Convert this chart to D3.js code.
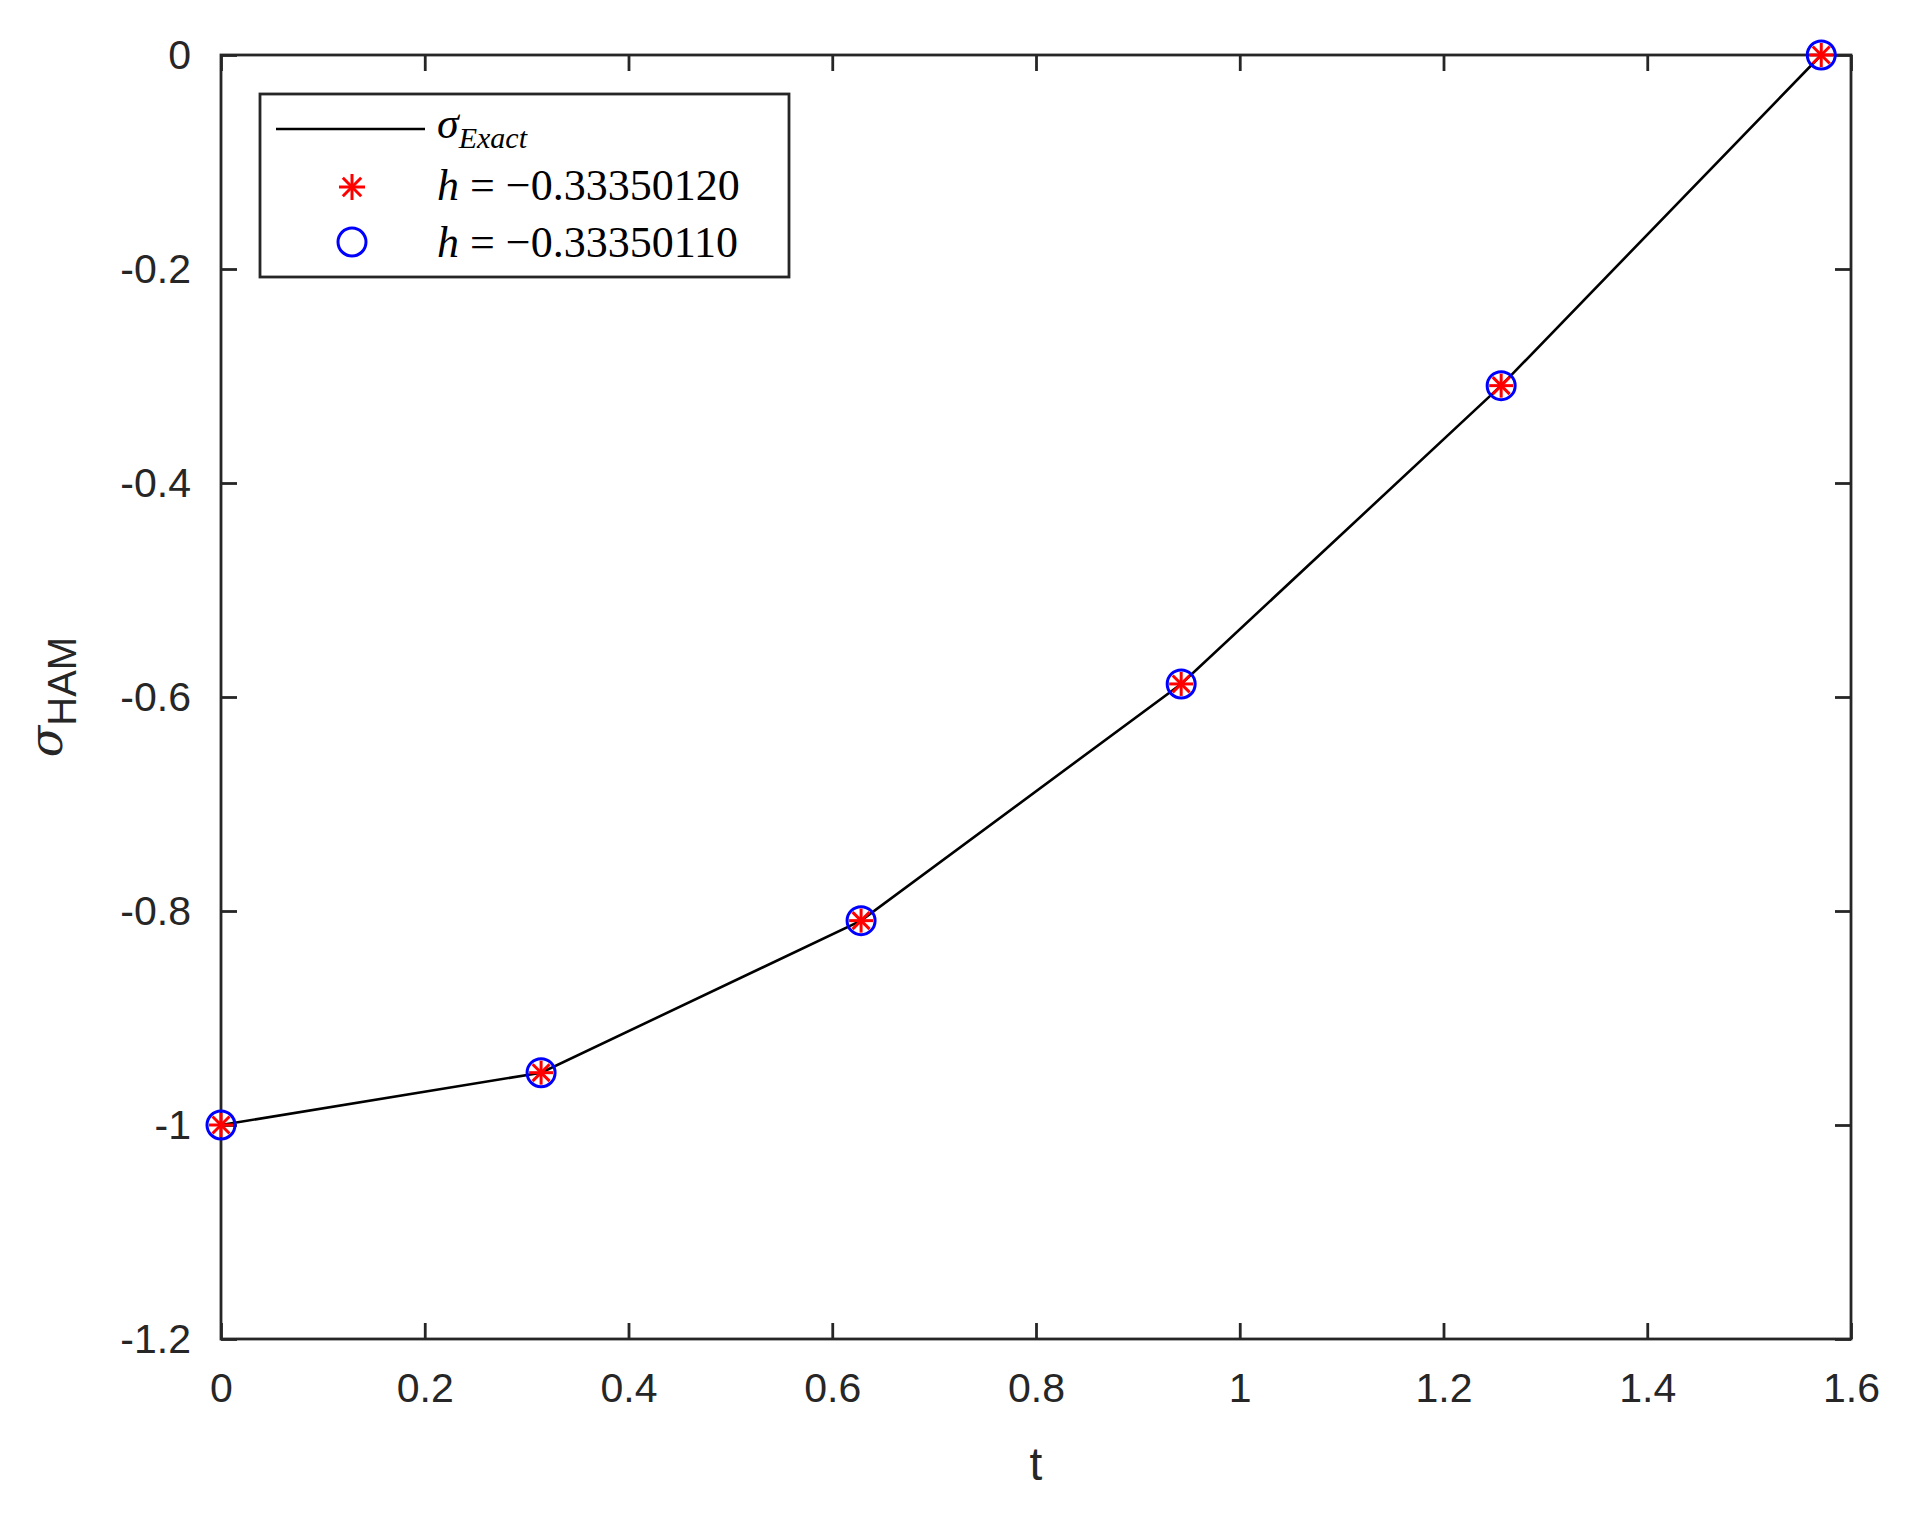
<!DOCTYPE html>
<html><head><meta charset="utf-8">
<script src="https://cdn.jsdelivr.net/npm/d3@7"></script>
<style>body{margin:0;background:#fff}</style>
</head><body>
<svg id="chart" width="1914" height="1531"></svg>
<script>
// データ
var tValues = [0, 0.3142, 0.6283, 0.9425, 1.2566, 1.5708];
var sigmaExact = [-1, -0.9511, -0.8090, -0.5878, -0.3090, 0];
var sigmaH1 = [-1, -0.9511, -0.8090, -0.5878, -0.3090, 0];   // h = -0.33350120
var sigmaH2 = [-1, -0.9511, -0.8090, -0.5878, -0.3090, 0];   // h = -0.33350110
var xTicks = [0, 0.2, 0.4, 0.6, 0.8, 1, 1.2, 1.4, 1.6];
var yTicks = [0, -0.2, -0.4, -0.6, -0.8, -1, -1.2];

var svg = d3.select("#chart");
var L = 221, R = 1851, T = 55, B = 1339;
var x = d3.scaleLinear().domain([0, 1.6]).range([L, R]);
var y = d3.scaleLinear().domain([-1.2, 0]).range([B, T]);
var axisColor = "#262626", font = "'Liberation Sans', Arial, sans-serif";

function styleAxis(g){
	g.select(".domain").remove();
	g.selectAll("line").attr("stroke", axisColor).attr("stroke-width", 2.8);
	g.selectAll("text").attr("fill", axisColor).style("font-family", font).style("font-size", "41px");
}
var fmt = function(d){ return d === 0 ? "0" : String(d); };
svg.append("g").attr("transform", "translate(0," + B + ")")
	.call(d3.axisBottom(x).tickValues(xTicks).tickFormat(fmt).tickSizeInner(-16).tickSizeOuter(0).tickPadding(34))
	.call(styleAxis);
svg.append("g").attr("transform", "translate(0," + T + ")")
	.call(d3.axisTop(x).tickValues(xTicks).tickFormat("").tickSizeInner(-16).tickSizeOuter(0))
	.call(styleAxis);
svg.append("g").attr("transform", "translate(" + L + ",0)")
	.call(d3.axisLeft(y).tickValues(yTicks).tickFormat(fmt).tickSizeInner(-16).tickSizeOuter(0).tickPadding(30))
	.call(styleAxis);
svg.append("g").attr("transform", "translate(" + R + ",0)")
	.call(d3.axisRight(y).tickValues(yTicks).tickFormat("").tickSizeInner(-16).tickSizeOuter(0))
	.call(styleAxis);
svg.append("rect").attr("x", L).attr("y", T).attr("width", R - L).attr("height", B - T)
	.attr("fill", "none").attr("stroke", axisColor).attr("stroke-width", 2.8);

// 線
var pts = tValues.map(function(t, i){ return [t, sigmaExact[i]]; });
svg.append("path").datum(pts)
	.attr("d", d3.line().x(function(d){ return x(d[0]); }).y(function(d){ return y(d[1]); }))
	.attr("fill", "none").attr("stroke", "#000").attr("stroke-width", 2.6);

function star(g, cx, cy, r){
	for (var k = 0; k < 4; k++){
		var a = k * Math.PI / 4 + Math.PI / 2;
		g.append("line").attr("x1", cx - r * Math.cos(a)).attr("y1", cy - r * Math.sin(a))
			.attr("x2", cx + r * Math.cos(a)).attr("y2", cy + r * Math.sin(a))
			.attr("stroke", "#ff0000").attr("stroke-width", 3);
	}
}
svg.append("g").selectAll("circle").data(tValues).enter().append("circle")
	.attr("cx", function(d){ return x(d); })
	.attr("cy", function(d, i){ return y(sigmaH2[i]); })
	.attr("r", 14).attr("fill", "none").attr("stroke", "#0000ff").attr("stroke-width", 3);
var sg = svg.append("g");
tValues.forEach(function(t, i){ star(sg, x(t), y(sigmaH1[i]), 12); });

// 軸ラベル
svg.append("text").attr("x", (L + R) / 2).attr("y", 1480).attr("text-anchor", "middle")
	.style("font-family", font).style("font-size", "46px").attr("fill", axisColor).text("t");
var yl = svg.append("text").attr("transform", "translate(62," + ((T + B) / 2) + ") rotate(-90)")
	.attr("text-anchor", "middle").style("font-family", font).attr("fill", axisColor);
yl.append("tspan").style("font-size", "46px").style("font-family", "'DejaVu Serif', serif").style("font-style", "italic").text("σ");
yl.append("tspan").style("font-size", "40px").attr("dy", 14).text("HAM");

// 凡例
var lg = svg.append("g");
lg.append("rect").attr("x", 260).attr("y", 94).attr("width", 529).attr("height", 183)
	.attr("fill", "#fff").attr("stroke", axisColor).attr("stroke-width", 2.8);
lg.append("line").attr("x1", 276).attr("x2", 425).attr("y1", 129).attr("y2", 129).attr("stroke", "#000").attr("stroke-width", 2.6);
var serif = "'Liberation Serif', 'DejaVu Serif', serif";
var t1 = lg.append("text").attr("x", 437).attr("y", 138).style("font-family", serif).style("font-style", "italic").attr("fill", "#000");
t1.append("tspan").style("font-size", "44px").text("σ");
t1.append("tspan").style("font-size", "30px").attr("dy", 10).text("Exact");
star(lg, 352, 187, 13);
lg.append("circle").attr("cx", 352).attr("cy", 242).attr("r", 14).attr("fill", "none").attr("stroke", "#0000ff").attr("stroke-width", 3);
["h = −0.33350120", "h = −0.33350110"].forEach(function(s, i){
	var tx = lg.append("text").attr("x", 437).attr("y", 200 + i * 57).style("font-family", serif).style("font-size", "44px").attr("fill", "#000");
	tx.append("tspan").style("font-style", "italic").text("h");
	tx.append("tspan").text(s.slice(1));
});
</script>
</body></html>
